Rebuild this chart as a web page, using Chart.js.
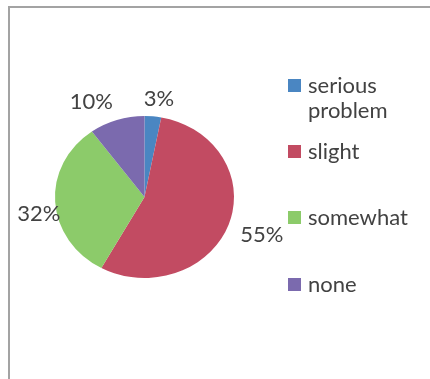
<!DOCTYPE html>
<html>
<head>
<meta charset="utf-8">
<script src="https://cdn.jsdelivr.net/npm/chart.js@4/dist/chart.umd.min.js"></script>
<style>
  html, body { margin: 0; padding: 0; background: #ffffff; }
  #wrap { position: relative; width: 430px; height: 379px; }
</style>
</head>
<body>
<div id="wrap"><canvas id="c" width="430" height="379"></canvas></div>
<script>
// Survey answers and their shares (percent)
const categories = ['serious problem', 'slight', 'somewhat', 'none'];
const legendLines = [['serious', 'problem'], ['slight'], ['somewhat'], ['none']];
const shares = [3, 55, 32, 10];
const sliceColors = ['#4a86c2', '#c24b62', '#8ccb6a', '#7b6aae'];

const TEXT_COLOR = '#424242';
const FONT = '22px Lato, "Open Sans", sans-serif';
const X_STRETCH = 1.105; // pie is drawn slightly wider than tall

// Outer frame of the chart box
const framePlugin = {
  id: 'frame',
  beforeDraw(chart) {
    const ctx = chart.ctx;
    ctx.save();
    ctx.fillStyle = '#ffffff';
    ctx.fillRect(0, 0, chart.width, chart.height);
    ctx.strokeStyle = '#a3a3a3';
    ctx.lineWidth = 2;
    ctx.beginPath();
    ctx.moveTo(9, chart.height + 5);
    ctx.lineTo(9, 7);
    ctx.lineTo(chart.width + 5, 7);
    ctx.stroke();
    ctx.restore();
  }
};

// Stretch the pie horizontally into an ellipse
const stretchPlugin = {
  id: 'stretch',
  beforeDatasetsDraw(chart) {
    const arc = chart.getDatasetMeta(0).data[0];
    const ctx = chart.ctx;
    ctx.save();
    ctx.translate(arc.x, arc.y);
    ctx.scale(X_STRETCH, 1);
    ctx.translate(-arc.x, -arc.y);
  },
  afterDatasetsDraw(chart) {
    chart.ctx.restore();
  }
};

// Percentage labels just outside each slice, with small per-label nudges
const labelNudges = [[4, 2], [13, 4], [5, 11], [-19, 0]];
const pctLabelPlugin = {
  id: 'pctLabels',
  afterDatasetsDraw(chart) {
    const ctx = chart.ctx;
    const meta = chart.getDatasetMeta(0);
    const values = chart.data.datasets[0].data;
    ctx.save();
    ctx.font = FONT;
    ctx.fillStyle = TEXT_COLOR;
    ctx.textAlign = 'center';
    ctx.textBaseline = 'middle';
    meta.data.forEach((arc, i) => {
      const mid = (arc.startAngle + arc.endAngle) / 2;
      const r = arc.outerRadius * 1.24;
      const x = arc.x + Math.cos(mid) * r * X_STRETCH + labelNudges[i][0];
      const y = arc.y + Math.sin(mid) * r + labelNudges[i][1];
      ctx.fillText(values[i] + '%', x, y);
    });
    ctx.restore();
  }
};

// Legend on the right, one entry per category
const legendPlugin = {
  id: 'sideLegend',
  afterDraw(chart) {
    const ctx = chart.ctx;
    const rows = [86, 152, 218, 285];
    ctx.save();
    ctx.font = FONT;
    ctx.textBaseline = 'middle';
    ctx.textAlign = 'left';
    legendLines.forEach((lines, i) => {
      const y = rows[i];
      ctx.fillStyle = sliceColors[i];
      ctx.fillRect(288, y - 7, 13, 13);
      ctx.fillStyle = TEXT_COLOR;
      lines.forEach((t, k) => ctx.fillText(t, 308, y + k * 25));
    });
    ctx.restore();
  }
};

new Chart(document.getElementById('c'), {
  type: 'pie',
  data: {
    labels: categories,
    datasets: [{
      data: shares,
      backgroundColor: sliceColors,
      borderWidth: 0
    }]
  },
  options: {
    responsive: false,
    animation: false,
    layout: { padding: { left: 63.5, top: 116, right: 204.5, bottom: 101 } },
    plugins: {
      legend: { display: false },
      tooltip: { enabled: false }
    }
  },
  plugins: [framePlugin, stretchPlugin, pctLabelPlugin, legendPlugin]
});
</script>
</body>
</html>
